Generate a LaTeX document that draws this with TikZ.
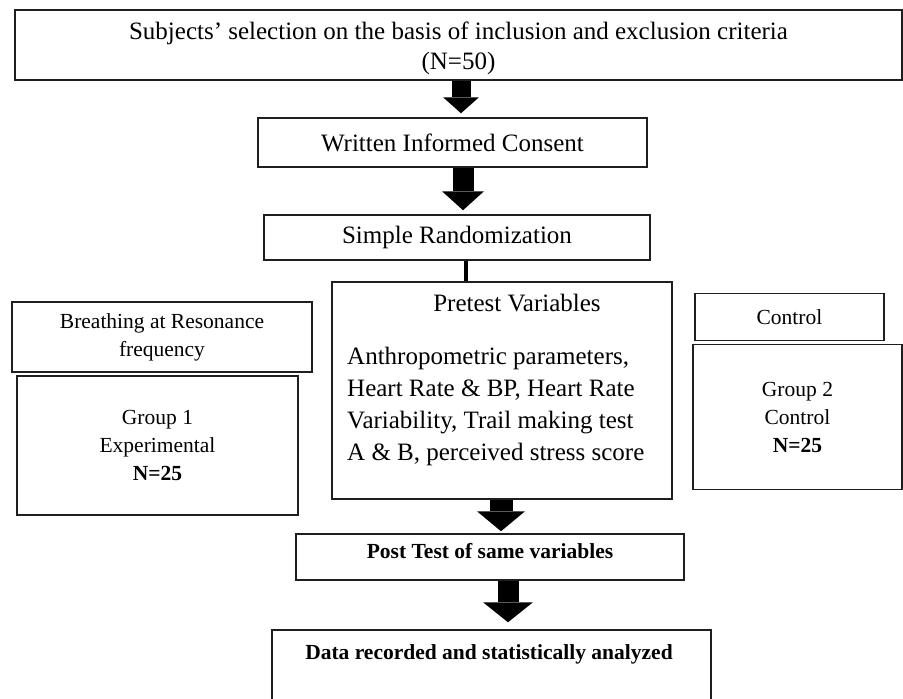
\documentclass[tikz,border=0pt]{standalone}
\usepackage{fontspec}
\setmainfont{Liberation Serif}
\usetikzlibrary{arrows.meta}

\definecolor{boxline}{rgb}{0.12,0.12,0.12}

\tikzset{
    stepbox/.style={draw=boxline, line width=1.5pt, inner sep=0pt, align=center},
    bigtext/.style={font=\fontsize{25}{30}\selectfont},
    smalltext/.style={font=\fontsize{21.5}{28}\selectfont},
    boldtext/.style={font=\fontsize{21.5}{28}\selectfont\bfseries},
    blockarrow/.style n args={3}{line width=#1, -{Triangle[length=#2, width=#3, line width=0pt]}}
}

\begin{document}
\begin{tikzpicture}[x=1pt, y=-1pt]
        \useasboundingbox (0,0) rectangle (903,699);

        \node[stepbox, bigtext, minimum width=887pt, minimum height=70pt] (top) at (458.5,45) {\rule{0pt}{24pt}Subjects’ selection on the basis of inclusion and exclusion criteria\\(N=50)};
        \node[stepbox, bigtext, minimum width=389pt, minimum height=49pt] (consent) at (452.5,142.5) {Written Informed Consent};
        \node[stepbox, bigtext, minimum width=386pt, minimum height=45pt] (random) at (457,237.5) {Simple Randomization};

        % middle column
        \node[stepbox, minimum width=340pt, minimum height=217pt] (pre) at (502,390.5) {};
        \node[bigtext] (pretitle) at (517,303) {Pretest Variables};
        \node[font=\fontsize{25}{32}\selectfont, anchor=west, align=left, inner sep=0pt] (prelist) at (347,406) {Anthropometric parameters,\\Heart Rate \& BP, Heart Rate\\Variability, Trail making test\\A \& B, perceived stress score};

        % groups
        \node[stepbox, smalltext, minimum width=300pt, minimum height=70pt] (breath) at (162,337) {Breathing at Resonance\\frequency};
        \node[stepbox, smalltext, minimum width=281pt, minimum height=139pt] (grp1) at (157.5,445.5) {Group 1\\Experimental\\\textbf{N=25}};
        \node[stepbox, smalltext, minimum width=189pt, minimum height=47pt] (control) at (789.5,317) {Control};
        \node[stepbox, smalltext, minimum width=209pt, minimum height=145pt] (grp2) at (797.5,417) {Group 2\\Control\\\textbf{N=25}};

        \node[stepbox, boldtext, minimum width=388pt, minimum height=46pt] (post) at (490,557) {Post Test of same variables\rule[-12pt]{0pt}{12pt}};
        \node[stepbox, minimum width=439pt, minimum height=90pt] (data) at (491.5,675) {};
        \node[boldtext] (datatxt) at (489,654) {Data recorded and statistically analyzed};

        % arrows
        \coordinate (c1) at (461,0);
        \coordinate (c2) at (463,0);
        \coordinate (c3) at (501,0);
        \coordinate (c4) at (508,0);
        \coordinate (cs) at (466,0);

        \draw[blockarrow={19pt}{16pt}{36pt}, shorten >=4pt] (top.south -| c1) -- (consent.north -| c1);
        \draw[blockarrow={21pt}{19pt}{42pt}, shorten >=4pt] (consent.south -| c2) -- (random.north -| c2);
        \draw[line width=4pt] (random.south -| cs) -- (pre.north -| cs);
        \draw[blockarrow={23pt}{20pt}{48pt}, shorten >=2pt] (pre.south -| c3) -- (post.north -| c3);
        \draw[blockarrow={21pt}{20pt}{50pt}, shorten >=7pt] (post.south -| c4) -- (data.north -| c4);
    \end{tikzpicture}
\end{document}
